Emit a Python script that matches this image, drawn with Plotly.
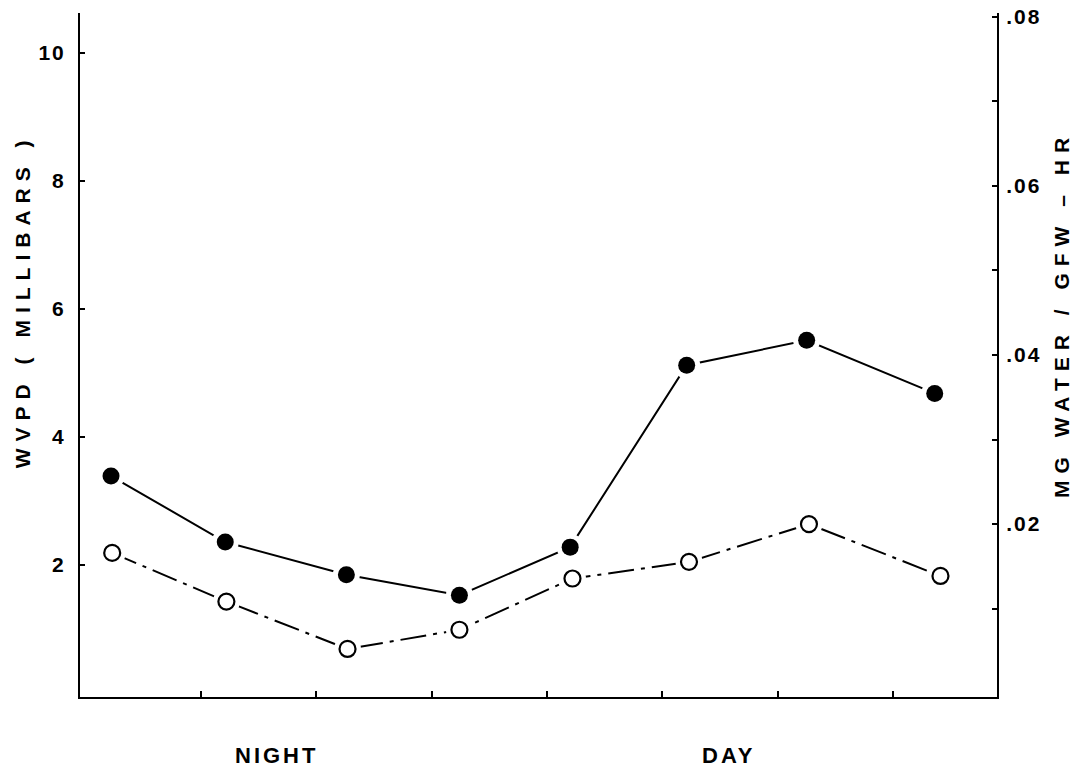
import plotly.graph_objects as go

# Data (x in tick units, y in WVPD millibars)
filled_x = [0.22, 1.21, 2.26, 3.24, 4.20, 5.21, 6.25, 7.36]
filled_y = [3.39, 2.36, 1.85, 1.53, 2.28, 5.12, 5.51, 4.68]
open_x = [0.23, 1.22, 2.27, 3.24, 4.22, 5.23, 6.27, 7.41]
open_y = [2.19, 1.43, 0.69, 0.99, 1.79, 2.05, 2.64, 1.83]

left_ticks = [2, 4, 6, 8, 10]
left_labels = ["2", "4", "6", "8", "10"]
right_ticks = [0.01, 0.02, 0.03, 0.04, 0.05, 0.06, 0.07, 0.08]
right_labels = ["", ".02", "", ".04", "", ".06", "", ".08"]
x_ticks = [1, 2, 3, 4, 5, 6, 7]

FONT = "Liberation Sans, Arial, Helvetica, sans-serif"


def spaced(t, px):
    return '<b><span style="letter-spacing:%dpx">%s</span></b>' % (px, t)


fig = go.Figure()

# open series: dash-dot line with white halos for gaps
fig.add_trace(go.Scatter(
    x=open_x, y=open_y, mode="lines+markers",
    line=dict(color="black", width=2, dash="26px,7px,4px,7px"),
    marker=dict(size=27, color="white", line=dict(width=0)),
    hoverinfo="skip", showlegend=False))
# filled series: solid line with white halos
fig.add_trace(go.Scatter(
    x=filled_x, y=filled_y, mode="lines+markers",
    line=dict(color="black", width=2),
    marker=dict(size=27, color="white", line=dict(width=0)),
    hoverinfo="skip", showlegend=False))
# markers
fig.add_trace(go.Scatter(
    x=open_x, y=open_y, mode="markers",
    marker=dict(size=16, color="white", line=dict(width=2.2, color="black")),
    showlegend=False))
fig.add_trace(go.Scatter(
    x=filled_x, y=filled_y, mode="markers",
    marker=dict(size=17, color="black", line=dict(width=0)),
    showlegend=False))
# invisible trace for right axis
fig.add_trace(go.Scatter(x=[0], y=[0], yaxis="y2", mode="markers",
                         marker=dict(opacity=0), hoverinfo="skip", showlegend=False))

fig.update_layout(
    width=1081, height=774,
    margin=dict(l=80, r=84, t=13, b=77, autoexpand=False),
    paper_bgcolor="white", plot_bgcolor="white",
    font=dict(family=FONT, color="black"),
    xaxis=dict(range=[-0.049, 7.90], showgrid=False, zeroline=False, automargin=False,
               showline=True, linecolor="black", linewidth=2,
               tickvals=x_ticks, ticktext=[""] * len(x_ticks),
               ticks="inside", ticklen=6, tickwidth=2, tickcolor="black"),
    yaxis=dict(range=[-0.06, 10.62], showgrid=False, zeroline=False, automargin=False,
               showline=True, linecolor="black", linewidth=2,
               tickvals=left_ticks, ticktext=[spaced(t, 2) for t in left_labels],
               ticks="inside", ticklen=5, tickwidth=2, tickcolor="black",
               tickfont=dict(size=21, family=FONT), ticklabelstandoff=8,
               ticklabeloverflow="allow"),
    yaxis2=dict(range=[-0.00047, 0.08047], overlaying="y", side="right",
                showgrid=False, zeroline=False, automargin=False,
                showline=True, linecolor="black", linewidth=2,
                tickvals=right_ticks,
                ticktext=[spaced(t, 2) if t else "" for t in right_labels],
                ticks="inside", ticklen=5, tickwidth=2, tickcolor="black",
                tickfont=dict(size=21, family=FONT), ticklabelstandoff=3,
                ticklabeloverflow="allow"),
    annotations=[
        dict(text=spaced("WVPD ( MILLIBARS )", 7),
             xref="paper", yref="paper", x=-0.0633, y=0.580, textangle=-90,
             xanchor="center", yanchor="middle",
             showarrow=False, font=dict(size=21, family=FONT)),
        dict(text=spaced("MG WATER / GFW – HR", 7),
             xref="paper", yref="paper", x=1.0709, y=0.5585, textangle=-90,
             xanchor="center", yanchor="middle",
             showarrow=False, font=dict(size=21, family=FONT)),
        dict(text=spaced("NIGHT", 3),
             xref="paper", yref="paper", x=0.2148, y=-0.0848,
             xanchor="center", yanchor="middle",
             showarrow=False, font=dict(size=22, family=FONT)),
        dict(text=spaced("DAY", 3),
             xref="paper", yref="paper", x=0.7067, y=-0.0848,
             xanchor="center", yanchor="middle",
             showarrow=False, font=dict(size=22, family=FONT)),
    ],
)

fig.write_html("out.html",
               config={"displayModeBar": False},
               post_script="document.body.style.margin='0';document.body.style.padding='0';")
